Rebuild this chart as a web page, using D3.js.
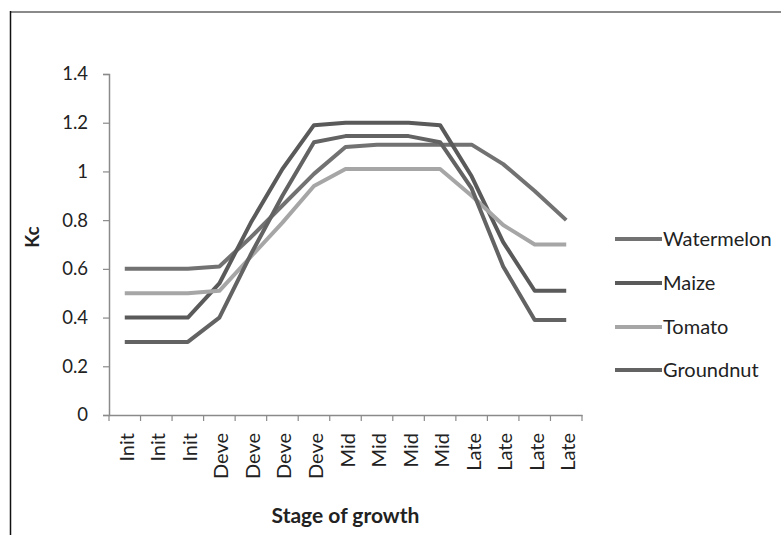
<!DOCTYPE html>
<html>
<head>
<meta charset="utf-8">
<script src="https://cdn.jsdelivr.net/npm/d3@7"></script>
<style>
  html, body { margin: 0; padding: 0; background: #fff; }
  svg { display: block; }
  text { font-family: Lato, "Open Sans", sans-serif; fill: #222; }
</style>
</head>
<body>
<svg id="chart" width="781" height="535"></svg>
<script>
// ---- data ----
const categories = ["Init","Init","Init","Deve","Deve","Deve","Deve","Mid","Mid","Mid","Mid","Late","Late","Late","Late"];
const seriesNames = ["Watermelon","Maize","Tomato","Groundnut"];
const watermelon = [0.60,0.60,0.60,0.61,0.73,0.86,0.99,1.10,1.11,1.11,1.11,1.11,1.03,0.92,0.80];
const maize      = [0.40,0.40,0.40,0.54,0.79,1.01,1.19,1.20,1.20,1.20,1.19,0.98,0.71,0.51,0.51];
const tomato     = [0.50,0.50,0.50,0.51,0.65,0.79,0.94,1.01,1.01,1.01,1.01,0.90,0.78,0.70,0.70];
const groundnut  = [0.30,0.30,0.30,0.40,0.66,0.90,1.12,1.145,1.145,1.145,1.12,0.93,0.61,0.39,0.39];
const yTicks = [0,0.2,0.4,0.6,0.8,1,1.2,1.4];
const seriesValues = [watermelon, maize, tomato, groundnut];
const colors = ["#727272","#5a5a5a","#a6a6a6","#636363"];

const svg = d3.select("#chart");

// frame
svg.append("line").attr("x1",10).attr("x2",781).attr("y1",12).attr("y2",12)
  .attr("stroke","#8a8a8a").attr("stroke-width",2);
svg.append("line").attr("x1",10.5).attr("x2",10.5).attr("y1",11).attr("y2",535)
  .attr("stroke","#111").attr("stroke-width",1.5);

const mLeft = 109, mRight = 582, mTop = 74, mBottom = 415;
const x = d3.scaleBand().domain(d3.range(categories.length)).range([mLeft, mRight]).paddingInner(0).paddingOuter(0);
const y = d3.scaleLinear().domain([0, 1.4]).range([mBottom, mTop]);
const axisColor = "#8a8a8a";

// y axis
const yAxis = svg.append("g").attr("transform", `translate(${mLeft},0)`)
  .call(d3.axisLeft(y).tickValues(yTicks).tickSize(6).tickPadding(15).tickFormat(d => d3.format("~g")(d)));
yAxis.select(".domain").attr("stroke", axisColor).attr("stroke-width", 1.5);
yAxis.selectAll(".tick line").attr("stroke", axisColor).attr("stroke-width", 1.2);
yAxis.selectAll("text").style("font-size","18.5px").style("font-family","Lato, sans-serif").attr("fill","#333");

// x axis (labels)
const xAxis = svg.append("g").attr("transform", `translate(0,${mBottom})`)
  .call(d3.axisBottom(x).tickSize(0).tickFormat(i => categories[i]));
xAxis.select(".domain").attr("stroke", axisColor).attr("stroke-width", 1.5);
xAxis.selectAll("text")
  .style("font-size","20px").style("font-family","Lato, sans-serif").attr("fill","#333")
  .attr("text-anchor","end")
  .attr("transform","rotate(-90)")
  .attr("x", -18).attr("y", 2).attr("dy","0.35em");
// boundary ticks
const bounds = d3.range(categories.length + 1).map(i => i < categories.length ? x(i) : x(i-1) + x.bandwidth());
svg.append("g").selectAll("line").data(bounds).join("line")
  .attr("x1", d => d).attr("x2", d => d).attr("y1", mBottom).attr("y2", mBottom + 6)
  .attr("stroke", axisColor).attr("stroke-width", 1.2);

// lines
const line = d3.line().x((d, i) => x(i) + x.bandwidth() / 2).y(d => y(d));
svg.append("g").selectAll("path").data(seriesValues).join("path")
  .attr("d", d => line(d))
  .attr("fill","none")
  .attr("stroke", (d, i) => colors[i])
  .attr("stroke-width", 4)
  .attr("stroke-linejoin","round");

// axis titles
svg.append("text").attr("x", (mLeft + mRight) / 2).attr("y", 523)
  .attr("text-anchor","middle").style("font-size","21px").style("font-weight","bold").text("Stage of growth");
svg.append("text").attr("transform","translate(39,237) rotate(-90)")
  .attr("text-anchor","middle").style("font-size","19px").style("font-weight","bold").text("Kc");

// legend
const legendY = [239, 283, 327, 370];
const lg = svg.append("g").selectAll("g").data(seriesNames).join("g")
  .attr("transform", (d, i) => `translate(615,${legendY[i]})`);
lg.append("line").attr("x1",0).attr("x2",47).attr("y1",0).attr("y2",0)
  .attr("stroke", (d, i) => colors[i]).attr("stroke-width",4);
lg.append("text").attr("x",48).attr("y",0).attr("dy","0.35em")
  .style("font-size","20px").attr("fill","#222").text(d => d);
</script>
</body>
</html>
